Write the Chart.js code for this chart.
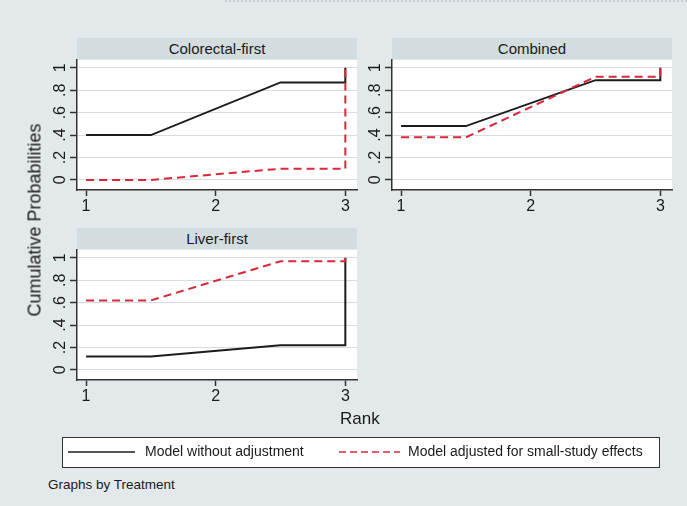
<!DOCTYPE html>
<html>
<head>
<meta charset="utf-8">
<script src="https://cdn.jsdelivr.net/npm/chart.js@4.4.1/dist/chart.umd.min.js"></script>
<style>
  html, body { margin: 0; padding: 0; }
  body { width: 687px; height: 506px; background: #e3e9eb; position: relative; overflow: hidden;
         font-family: "Liberation Sans", Arial, sans-serif; color: #1a1a1a; }
  .abs { position: absolute; }
  .strip { background: #d3dcdf; text-align: center; font-size: 15px; line-height: 21px; }
  .panel { position: absolute; }
  .legend { background: #fff; border: 1.5px solid #333; box-sizing: border-box; }
  .topline { border-top: 2px dotted #c9cfd2; }
</style>
</head>
<body>
<div class="abs topline" style="left:225px; top:0; width:462px;"></div>

<div class="abs strip" style="left:77px; top:38px; width:280px; height:21px;" id="t0"></div>
<div class="abs strip" style="left:392px; top:38px; width:280px; height:21px;" id="t1"></div>
<div class="abs strip" style="left:77px; top:228px; width:280px; height:21px;" id="t2"></div>

<div class="panel" style="left:20px; top:59px; width:345px; height:170px;"><canvas id="c0"></canvas></div>
<div class="panel" style="left:335px; top:59px; width:345px; height:170px;"><canvas id="c1"></canvas></div>
<div class="panel" style="left:20px; top:249px; width:345px; height:170px;"><canvas id="c2"></canvas></div>

<div class="abs" style="left:35px; top:220px; transform: translate(-50%,-50%) rotate(-90deg); font-size:18px; white-space:nowrap;">Cumulative Probabilities</div>
<div class="abs" style="left:340px; top:409px; font-size:17px;">Rank</div>

<div class="abs legend" style="left:62px; top:437px; width:598px; height:31px;">
  <canvas id="lg" width="595" height="28" style="position:absolute; left:0; top:0;"></canvas>
</div>
<div class="abs" style="left:48px; top:477px; font-size:13.5px;">Graphs by Treatment</div>

<script>
// Ранги и накопленные вероятности
const ranks = [1, 2, 3];
const panelTitles = ['Colorectal-first', 'Combined', 'Liver-first'];

const colorectalUnadj = [0.40, 0.87, 1];
const colorectalAdj   = [0.00, 0.10, 1];
const combinedUnadj   = [0.48, 0.89, 1];
const combinedAdj     = [0.38, 0.92, 1];
const liverUnadj      = [0.12, 0.22, 1];
const liverAdj        = [0.62, 0.97, 1];

const seriesNames = ['Model without adjustment', 'Model adjusted for small-study effects'];
const yTickValues = [0, 0.2, 0.4, 0.6, 0.8, 1];
const yTickLabels = ['0', '.2', '.4', '.6', '.8', '1'];

const BLACK = '#1c1c1c';
const RED = '#d8283a';
const FONT = '"Liberation Sans", Arial, sans-serif';

// линия в стиле Stata: держим значение до середины, потом переход
function stepPath(vals) {
    return [
        { x: ranks[0], y: vals[0] },
        { x: (ranks[0] + ranks[1]) / 2, y: vals[0] },
        { x: (ranks[1] + ranks[2]) / 2, y: vals[1] },
        { x: ranks[2], y: vals[1] },
        { x: ranks[2], y: vals[2] }
    ];
}

// подписи оси Y повернуты как в Stata
const rotatedYLabels = {
    id: 'rotatedYLabels',
    afterDraw(chart) {
        const ys = chart.scales.y;
        const ctx = chart.ctx;
        ctx.save();
        ctx.fillStyle = '#1a1a1a';
        ctx.font = '16px ' + FONT;
        ctx.textAlign = 'center';
        ctx.textBaseline = 'alphabetic';
        yTickValues.forEach((v, i) => {
            const py = ys.getPixelForValue(v);
            ctx.save();
            ctx.translate(ys.right - 12, py);
            ctx.rotate(-Math.PI / 2);
            ctx.fillText(yTickLabels[i], 0, 0);
            ctx.restore();
        });
        ctx.restore();
    }
};

function makePanel(id, unadj, adj) {
    new Chart(document.getElementById(id).getContext('2d'), {
        type: 'line',
        data: {
            datasets: [{
                label: seriesNames[0],
                data: stepPath(unadj),
                borderColor: BLACK,
                borderWidth: 2,
                pointRadius: 0,
                order: 1
            }, {
                label: seriesNames[1],
                data: stepPath(adj),
                borderColor: RED,
                borderWidth: 2,
                borderDash: [8, 5],
                pointRadius: 0,
                order: 0
            }]
        },
        options: {
            responsive: true,
            maintainAspectRatio: false,
            animation: false,
            layout: { padding: { top: 1, right: 8, left: 0, bottom: 0 } },
            plugins: {
                legend: { display: false },
                tooltip: { enabled: false }
            },
            scales: {
                x: {
                    type: 'linear',
                    min: 0.93,
                    max: 3.09,
                    afterBuildTicks: s => { s.ticks = ranks.map(v => ({ value: v })); },
                    afterFit: s => { s.height = 39; },
                    grid: { drawOnChartArea: false, tickColor: '#333', tickLength: 6, tickWidth: 1.5 },
                    border: { color: '#333', width: 1.5 },
                    ticks: { color: '#1a1a1a', font: { size: 16, family: FONT }, padding: 1 }
                },
                y: {
                    type: 'linear',
                    min: -0.09,
                    max: 1.07,
                    afterBuildTicks: s => { s.ticks = yTickValues.map(v => ({ value: v })); },
                    afterFit: s => { s.width = 57; },
                    grid: { color: '#d6dcdf', lineWidth: 1, tickColor: '#333', tickLength: 7, tickWidth: 1.5 },
                    border: { color: '#333', width: 1.5 },
                    ticks: { display: false }
                }
            }
        },
        plugins: [
            {
                id: 'whiteArea',
                beforeDraw(chart) {
                    const a = chart.chartArea;
                    chart.ctx.save();
                    chart.ctx.fillStyle = '#ffffff';
                    chart.ctx.fillRect(a.left, a.top, a.right - a.left, a.bottom - a.top);
                    chart.ctx.restore();
                }
            },
            rotatedYLabels
        ]
    });
}

panelTitles.forEach((t, i) => { document.getElementById('t' + i).textContent = t; });

makePanel('c0', colorectalUnadj, colorectalAdj);
makePanel('c1', combinedUnadj, combinedAdj);
makePanel('c2', liverUnadj, liverAdj);

// легенда внизу
const lg = document.getElementById('lg').getContext('2d');
lg.font = '14px ' + FONT;
lg.fillStyle = '#1a1a1a';
lg.textBaseline = 'middle';
lg.lineWidth = 1.5;
lg.strokeStyle = BLACK;
lg.beginPath(); lg.moveTo(5, 14); lg.lineTo(72, 14); lg.stroke();
lg.fillText(seriesNames[0], 82, 14);
lg.strokeStyle = RED;
lg.setLineDash([7, 4]);
lg.beginPath(); lg.moveTo(276, 14); lg.lineTo(337, 14); lg.stroke();
lg.fillText(seriesNames[1], 345, 14);
</script>
</body>
</html>
